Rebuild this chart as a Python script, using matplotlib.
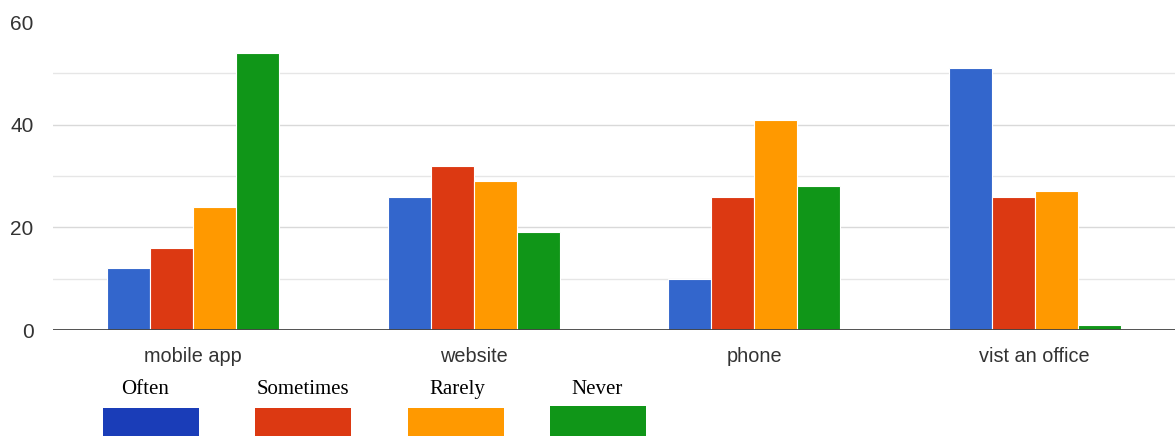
import matplotlib
matplotlib.use("Agg")
import matplotlib.pyplot as plt
from matplotlib.patches import Rectangle
import numpy as np

categories = ["mobile app", "website", "phone", "vist an office"]
series_names = ["Often", "Sometimes", "Rarely", "Never"]
often = [12, 26, 10, 51]
sometimes = [16, 32, 26, 26]
rarely = [24, 29, 41, 27]
never = [54, 19, 28, 1]
yticks = [0, 20, 40, 60]

bar_colors = ["#3366cc", "#dc3912", "#ff9900", "#109618"]
legend_colors = ["#1a3db8", "#dc3912", "#ff9900", "#109618"]

W, H = 1175, 436
fig = plt.figure(figsize=(W / 100, H / 100), dpi=100)
ax = fig.add_axes([53 / W, 1 - 330 / H, 1 - 53 / W, (330 - 22) / H])

x = np.arange(len(categories))
bw = 0.153
data = [often, sometimes, rarely, never]
for i, (vals, c) in enumerate(zip(data, bar_colors)):
    ax.bar(x + (i - 1.5) * bw, vals, width=bw, color=c, edgecolor="white",
           linewidth=0.8, zorder=3)

ax.set_xlim(-0.5, len(categories) - 0.5)
ax.set_ylim(0, 60)
for g in [10, 20, 30, 40, 50]:
    ax.axhline(g, color="#e6e6e6" if g % 20 else "#d9d9d9", linewidth=1, zorder=1)
ax.axhline(0, color="#444444", linewidth=1.3, zorder=4)

ax.set_yticks(yticks)
ax.set_yticklabels([str(v) for v in yticks])
ax.set_xticks(x)
ax.set_xticklabels(categories)
ax.tick_params(axis="both", length=0, labelcolor="#333333",
               labelfontfamily="Liberation Sans")
ax.tick_params(axis="x", labelsize=14.3, pad=12)
ax.tick_params(axis="y", labelsize=15, pad=14)
for s in ax.spines.values():
    s.set_visible(False)

# legend: serif labels above colored rectangles
text_x = [145, 303, 457, 597]
rect_x = [103, 255, 408, 550]
rect_top = [408, 408, 408, 406]
for name, tx, rx, rt, c in zip(series_names, text_x, rect_x, rect_top, legend_colors):
    fig.text(tx / W, 1 - 389 / H, name, ha="center", va="center",
             fontsize=15, family="Liberation Serif", color="black")
    fig.add_artist(Rectangle((rx / W, 0), 96 / W, (H - rt) / H,
                             transform=fig.transFigure, color=c, linewidth=0))

fig.savefig("out.png", dpi=100)
